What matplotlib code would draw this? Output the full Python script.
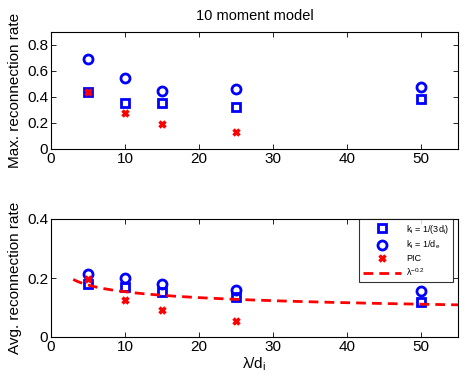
import matplotlib
matplotlib.use("Agg")
import matplotlib.pyplot as plt
import numpy as np

plt.rcParams["font.family"] = ["Liberation Sans", "DejaVu Sans"]
plt.rcParams["mathtext.fontset"] = "custom"
plt.rcParams["mathtext.rm"] = "Liberation Sans"
plt.rcParams["mathtext.it"] = "Liberation Sans"

# lambda / d_i
lam = [5, 10, 15, 25, 50]
lam_pic = [5, 10, 15, 25]

# max reconnection rate
max_sq = [0.435, 0.355, 0.355, 0.325, 0.385]
max_circ = [0.69, 0.545, 0.45, 0.465, 0.48]
max_pic = [0.435, 0.28, 0.195, 0.13]

# average reconnection rate
avg_sq = [0.178, 0.168, 0.153, 0.135, 0.117]
avg_circ = [0.215, 0.2, 0.18, 0.16, 0.155]
avg_pic = [0.195, 0.125, 0.09, 0.055]

# fitted power law
fit_coef = 0.243
fit_exp = -0.2
fit_range = (3, 55)

blue = "#0000ff"
red = "#ff0000"

fig = plt.figure(figsize=(4.67, 3.85), dpi=100)
ax1 = fig.add_axes([51 / 467, 1 - 149 / 385, 407 / 467, 117 / 385])
ax2 = fig.add_axes([51 / 467, 1 - 337 / 385, 407 / 467, 118 / 385])


def style(ax, ymax, yticks):
    ax.set_xlim(0, 55)
    ax.set_ylim(0, ymax)
    ax.set_xticks([0, 10, 20, 30, 40, 50])
    ax.set_yticks(yticks)
    ax.tick_params(direction="in", top=True, right=True, labelsize=11,
                   length=3.5, width=0.6, pad=2)
    for s in ax.spines.values():
        s.set_linewidth(0.8)


sq_kw = dict(ls="none", marker="s", ms=5.5, mfc="none", mec=blue, mew=2)
ci_kw = dict(ls="none", marker="o", ms=6.5, mfc="none", mec=blue, mew=2)
pic_kw = dict(ls="none", marker="x", ms=3.8, mec=red, mew=2.5)

ax1.plot(lam, max_sq, **sq_kw)
ax1.plot(lam, max_circ, **ci_kw)
ax1.plot(lam_pic, max_pic, **pic_kw)
style(ax1, 0.9, [0, 0.2, 0.4, 0.6, 0.8])
ax1.set_yticklabels(["0", "0.2", "0.4", "0.6", "0.8"])
ax1.set_ylabel("Max. reconnection rate", fontsize=11)
ax1.set_title("10 moment model", fontsize=10.5, pad=9)

ax2.plot(lam, avg_sq, label="k$_i$ = 1/(3d$_i$)", **sq_kw)
ax2.plot(lam, avg_circ, label="k$_i$ = 1/d$_e$", **ci_kw)
ax2.plot(lam_pic, avg_pic, label="PIC", **pic_kw)
xf = np.linspace(fit_range[0], fit_range[1], 200)
ax2.plot(xf, fit_coef * xf ** fit_exp, color=red, ls=(0, (3.5, 2.2)), lw=2,
         label="λ$^{-0.2}$")
style(ax2, 0.4, [0, 0.2, 0.4])
ax2.set_yticklabels(["0", "0.2", "0.4"])
ax2.set_ylabel("Avg. reconnection rate", fontsize=11)
ax2.set_xlabel("λ/d$_i$", fontsize=11, labelpad=1)

leg = ax2.legend(loc="upper right", bbox_to_anchor=(0.988, 1.0), fontsize=6.5,
                 frameon=True, fancybox=False, edgecolor="black",
                 handlelength=4.2, labelspacing=0.35, borderpad=0.4,
                 handletextpad=0.6, borderaxespad=0)
leg.get_frame().set_linewidth(0.8)

fig.savefig("out.png", dpi=100)
